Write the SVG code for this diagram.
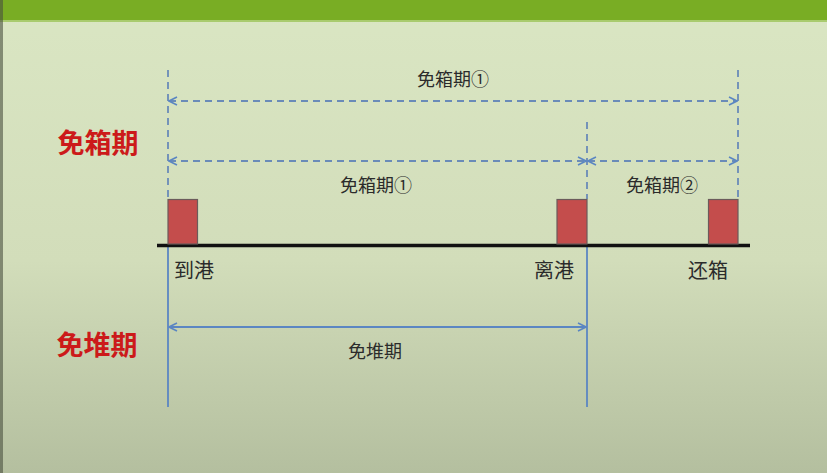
<svg xmlns="http://www.w3.org/2000/svg" width="827" height="473" viewBox="0 0 827 473">
<defs>
<linearGradient id="bg" x1="0" y1="0" x2="0" y2="1">
<stop offset="0" stop-color="#dae6c3"/>
<stop offset="0.55" stop-color="#d2ddba"/>
<stop offset="1" stop-color="#b4bf9f"/>
</linearGradient>
<marker id="ah" viewBox="0 0 10 10" refX="9" refY="5" markerWidth="10" markerHeight="10" markerUnits="userSpaceOnUse" orient="auto-start-reverse">
<path d="M1,1 L9,5 L1,9" fill="none" stroke="#5b86c2" stroke-width="1.6"/>
</marker>
<style>
.lbl{font-family:"Noto Sans CJK SC","Noto Sans",sans-serif;fill:#2b2b2b;text-anchor:middle}
.red{font-family:"Noto Sans CJK SC","Noto Sans",sans-serif;fill:#cc1a1a;font-weight:bold;font-size:27px;text-anchor:middle}
.dash{stroke:#6a8bb8;stroke-width:1.8;stroke-dasharray:7 5;fill:none}
.solid{stroke:#5b86c2;stroke-width:1.8;fill:none}
.box{fill:#c44d4c;stroke:#6b5b5b;stroke-width:1.2}
</style>
</defs>
<rect x="0" y="0" width="827" height="473" fill="url(#bg)"/>
<rect x="0" y="0" width="827" height="20" fill="#79ad24"/>
<rect x="0" y="20" width="827" height="2" fill="#a9cb6e"/>
<rect x="0" y="0" width="3" height="473" fill="#4a5040" opacity="0.6"/>

<g id="connectors">
<line class="dash" x1="168" y1="70" x2="168" y2="199"/>
<line class="dash" x1="738" y1="70" x2="738" y2="199"/>
<line class="dash" x1="587" y1="122" x2="587" y2="199"/>
<line class="solid" x1="168" y1="247" x2="168" y2="407"/>
<line class="solid" x1="587" y1="247" x2="587" y2="407"/>
<line class="dash" x1="169" y1="101" x2="737" y2="101" marker-start="url(#ah)" marker-end="url(#ah)"/>
<line class="dash" x1="169" y1="161" x2="586" y2="161" marker-start="url(#ah)" marker-end="url(#ah)"/>
<line class="dash" x1="588" y1="161" x2="737" y2="161" marker-start="url(#ah)" marker-end="url(#ah)"/>
<line class="solid" x1="169" y1="327" x2="586" y2="327" marker-start="url(#ah)" marker-end="url(#ah)"/>
</g>

<g id="baseline">
<line x1="157" y1="245.5" x2="750" y2="245.5" stroke="#111" stroke-width="3.5"/>
</g>

<g id="arrive">
<rect class="box" x="168" y="199.5" width="29.5" height="44.5"/>
<text class="lbl" x="194" y="278" font-size="20">到港</text>
</g>
<g id="depart">
<rect class="box" x="557" y="199.5" width="30" height="44.5"/>
<text class="lbl" x="554" y="278" font-size="20">离港</text>
</g>
<g id="return">
<rect class="box" x="708.5" y="199.5" width="29.5" height="44.5"/>
<text class="lbl" x="708" y="278" font-size="20">还箱</text>
</g>

<g id="labels">
<text class="lbl" x="453" y="86" font-size="18">免箱期①</text>
<text class="lbl" x="376" y="192" font-size="18">免箱期①</text>
<text class="lbl" x="662" y="192" font-size="18">免箱期②</text>
<text class="lbl" x="375" y="358" font-size="18">免堆期</text>
</g>

<g id="title-box">
<text class="red" x="98" y="153">免箱期</text>
</g>
<g id="title-yard">
<text class="red" x="97" y="355">免堆期</text>
</g>
</svg>
